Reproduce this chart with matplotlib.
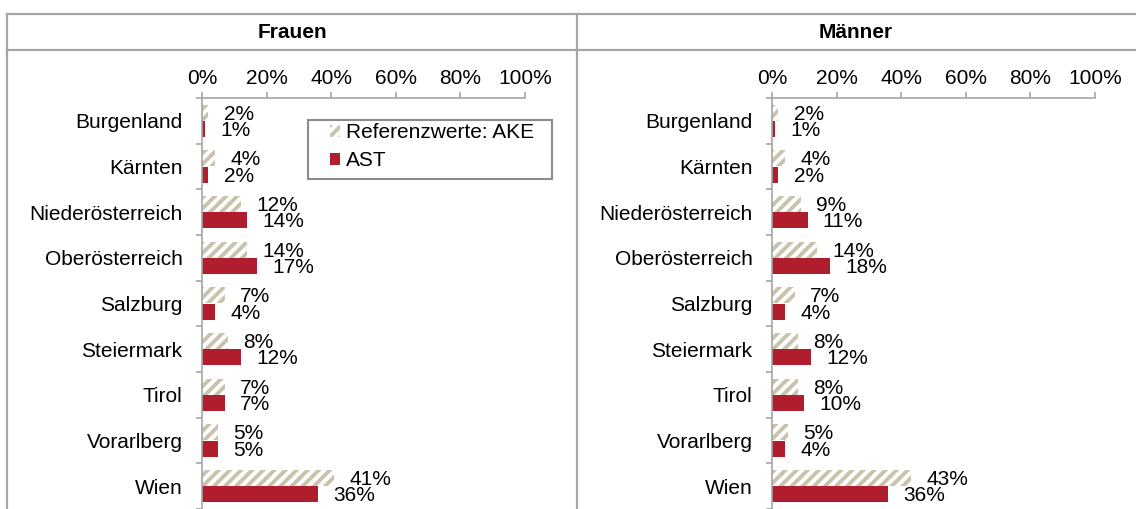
import matplotlib.pyplot as plt
import numpy as np
from matplotlib.patches import Rectangle

plt.rcParams['font.family'] = ['Liberation Sans', 'DejaVu Sans']
plt.rcParams['hatch.linewidth'] = 2.8

regions = ['Burgenland', 'Kärnten', 'Niederösterreich', 'Oberösterreich', 'Salzburg',
           'Steiermark', 'Tirol', 'Vorarlberg', 'Wien']
frauen_ake = [2, 4, 12, 14, 7, 8, 7, 5, 41]
frauen_ast = [1, 2, 14, 17, 4, 12, 7, 5, 36]
maenner_ake = [2, 4, 9, 14, 7, 8, 8, 5, 43]
maenner_ast = [1, 2, 11, 18, 4, 12, 10, 4, 36]
panel_titles = ['Frauen', 'Männer']
xticks = [0, 20, 40, 60, 80, 100]

W, H = 1136, 509
red = '#b01e2e'
beige = '#c9c3ae'
gray = '#a6a6a6'
fs = 15

fig = plt.figure(figsize=(W / 100, H / 100), dpi=100)

def px(x, y):
    return x / W, 1 - y / H

# table lines
def hline(y, x0, x1):
    fig.add_artist(plt.Line2D([x0 / W, x1 / W], [1 - y / H, 1 - y / H], color=gray, lw=1.6,
                              transform=fig.transFigure))

def vline(x, y0, y1):
    fig.add_artist(plt.Line2D([x / W, x / W], [1 - y0 / H, 1 - y1 / H], color=gray, lw=1.6,
                              transform=fig.transFigure))

hline(14, 7, W)
hline(50, 7, W)
vline(7, 14, H)
vline(577, 14, H)

fig.text(292 / W, 1 - 32 / H, panel_titles[0], ha='center', va='center', fontsize=fs, fontweight='bold')
fig.text(856 / W, 1 - 32 / H, panel_titles[1], ha='center', va='center', fontsize=fs, fontweight='bold')

y = np.arange(len(regions))
top = 98
for left, ake, ast in [(202, frauen_ake, frauen_ast), (772, maenner_ake, maenner_ast)]:
    ax = fig.add_axes([left / W, 0, 323 / W, (H - top) / H])
    ax.barh(y - 0.18, ake, height=0.35, color='white', edgecolor=beige, hatch='///',
            linewidth=0, label='Referenzwerte: AKE')
    ax.barh(y + 0.18, ast, height=0.35, color=red, linewidth=0, label='AST')
    for i in range(len(regions)):
        ax.annotate(f'{ake[i]}%', (ake[i], y[i] - 0.18), xytext=(11, -1), textcoords='offset points',
                    ha='left', va='center', fontsize=fs)
        ax.annotate(f'{ast[i]}%', (ast[i], y[i] + 0.18), xytext=(11, -1), textcoords='offset points',
                    ha='left', va='center', fontsize=fs)
    ax.set_xlim(0, 100)
    ax.set_ylim((H - top) / 45.75 - 0.5, -0.5)
    ax.xaxis.tick_top()
    ax.set_xticks(xticks)
    ax.set_xticklabels([f'{t}%' for t in xticks], fontsize=fs)
    ax.tick_params(axis='x', direction='out', length=4, width=1.2, color=gray, pad=3)
    ax.set_yticks(y)
    ax.set_yticklabels(regions, fontsize=fs)
    ax.set_yticks(np.arange(-0.5, len(regions)), minor=True)
    ax.tick_params(axis='y', which='major', length=0, pad=14)
    ax.tick_params(axis='y', which='minor', direction='out', length=4, width=1.2, color=gray)
    for s in ['right', 'bottom']:
        ax.spines[s].set_visible(False)
    for s in ['left', 'top']:
        ax.spines[s].set_color(gray)
        ax.spines[s].set_linewidth(1.2)
    ax.patch.set_alpha(0)
    if left == 202:
        handles, labels = ax.get_legend_handles_labels()

fig.add_artist(Rectangle(px(308, 179), 244 / W, 59 / H, transform=fig.transFigure,
                         facecolor='white', edgecolor='#8c8c8c', linewidth=1.5, zorder=4))
leg = fig.legend(handles, labels, loc='upper left', bbox_to_anchor=px(330, 123),
                 borderaxespad=0, frameon=False, fontsize=fs,
                 handlelength=0.5, handleheight=0.5, handletextpad=0.25, borderpad=0,
                 labelspacing=0.45)
leg.set_zorder(5)

fig.savefig('out.png', dpi=100)
